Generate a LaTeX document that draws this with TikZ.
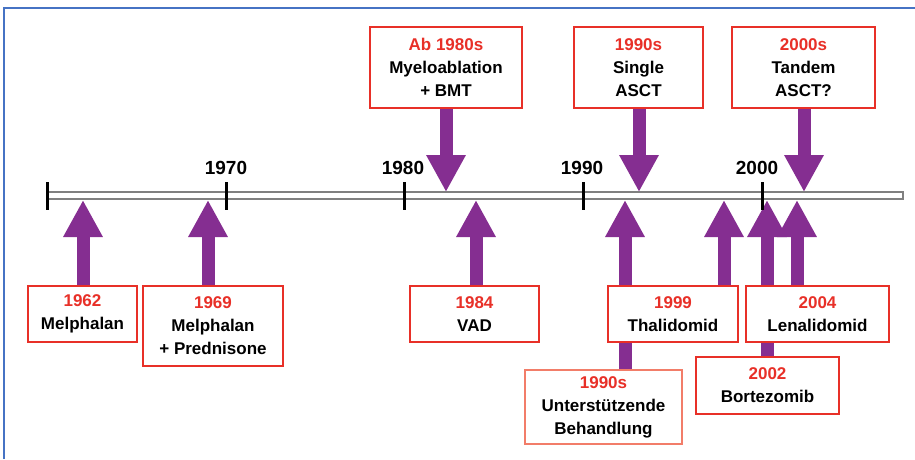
\documentclass[tikz,border=0pt]{standalone}
\usepackage{fontspec}
\setmainfont{Liberation Sans}
\usetikzlibrary{arrows.meta,backgrounds}
\definecolor{tlpurple}{RGB}{133,46,145}
\definecolor{tlred}{RGB}{232,48,40}
\definecolor{tlsalmon}{RGB}{242,125,105}
\definecolor{tlblue}{RGB}{70,115,196}
\definecolor{tlgray}{RGB}{128,128,128}
\begin{document}
\begin{tikzpicture}[x=1pt,y=-1pt,
  evbox/.style={draw=tlred, line width=2.2pt, fill=white, align=center,
    font=\fontsize{17}{23}\selectfont\bfseries, inner sep=0pt},
  softbox/.style={evbox, draw=tlsalmon, line width=1.5pt},
  yearlbl/.style={font=\fontsize{19}{22}\selectfont\bfseries, inner sep=0pt},
  evarrow/.style={draw=tlpurple, line width=13pt, -{Triangle[width=37pt,length=37pt]}},
  tick/.style={draw=black, line width=3pt},
  bar/.style={draw=tlgray, fill=white, line width=1.5pt},
  frameline/.style={draw=tlblue, line width=2pt}]
\useasboundingbox (0,0) rectangle (915,459);
\draw[frameline] (4,459) -- (4,8) -- (915,8);

% timeline bar
\draw[bar] (47,192) rectangle (903,199);
\foreach \n/\x in {t0/47, t1970/226, t1980/404, t1990/583, t2000/762}{
  \coordinate (\n top) at (\x,182);
  \coordinate (\n bot) at (\x,210);
  \draw[tick] (\n top) -- (\n bot);
}
\node[yearlbl] (l1970) at (226,168) {1970};
\node[yearlbl] (l1980) at (403,168) {1980};
\node[yearlbl] (l1990) at (582,168) {1990};
\node[yearlbl] (l2000) at (757,168) {2000};

% arrow targets on the bar
\coordinate (d1980) at (446,192);
\coordinate (d1990) at (639,192);
\coordinate (d2000) at (804,192);
\coordinate (u1962) at (83,200);
\coordinate (u1969) at (208,200);
\coordinate (u1984) at (476,200);
\coordinate (uUnter) at (625,200);
\coordinate (u1999) at (724,200);
\coordinate (u2002) at (767,200);
\coordinate (u2004) at (797,200);

% top boxes
\node[evbox, minimum width=152pt, minimum height=81pt] (b1980) at (446,67.5)
  {\textcolor{tlred}{Ab 1980s}\\Myeloablation\\+ BMT};
\node[evbox, minimum width=129pt, minimum height=81pt] (b1990) at (638.5,67.5)
  {\textcolor{tlred}{1990s}\\Single\\ASCT};
\node[evbox, minimum width=143pt, minimum height=81pt] (b2000) at (803.5,67.5)
  {\textcolor{tlred}{2000s}\\Tandem\\ASCT?};

% bottom boxes
\node[evbox, minimum width=109pt, minimum height=56pt] (b1962) at (82.5,314)
  {\textcolor{tlred}{1962}\\Melphalan};
\node[evbox, minimum width=140pt, minimum height=80pt] (b1969) at (213,326)
  {\textcolor{tlred}{1969}\\Melphalan\\+ Prednisone};
\node[evbox, minimum width=129pt, minimum height=56pt] (b1984) at (474.5,314)
  {\textcolor{tlred}{1984}\\VAD};
\node[evbox, minimum width=130pt, minimum height=56pt] (b1999) at (673,314)
  {\textcolor{tlred}{1999}\\Thalidomid};
\node[evbox, minimum width=143pt, minimum height=56pt] (b2004) at (817.5,314)
  {\textcolor{tlred}{2004}\\Lenalidomid};
\node[softbox, minimum width=157pt, minimum height=74pt] (bUnter) at (603.5,407)
  {\textcolor{tlred}{1990s}\\Unterstützende\\Behandlung};
\node[evbox, minimum width=143pt, minimum height=57pt] (b2002) at (767.5,385.5)
  {\textcolor{tlred}{2002}\\Bortezomib};

% arrows behind the boxes
\begin{scope}[on background layer]
\draw[evarrow] (b1980.south -| d1980) -- (d1980);
\draw[evarrow] (b1990.south -| d1990) -- (d1990);
\draw[evarrow] (b2000.south -| d2000) -- (d2000);
\draw[evarrow] (b1962.north -| u1962) -- (u1962);
\draw[evarrow] (b1969.north -| u1969) -- (u1969);
\draw[evarrow] (b1984.north -| u1984) -- (u1984);
\draw[evarrow] (bUnter.north -| uUnter) -- (uUnter);
\draw[evarrow] (b1999.north -| u1999) -- (u1999);
\draw[evarrow] (b2002.north -| u2002) -- (u2002);
\draw[evarrow] (b2004.north -| u2004) -- (u2004);
\end{scope}
\end{tikzpicture}
\end{document}
